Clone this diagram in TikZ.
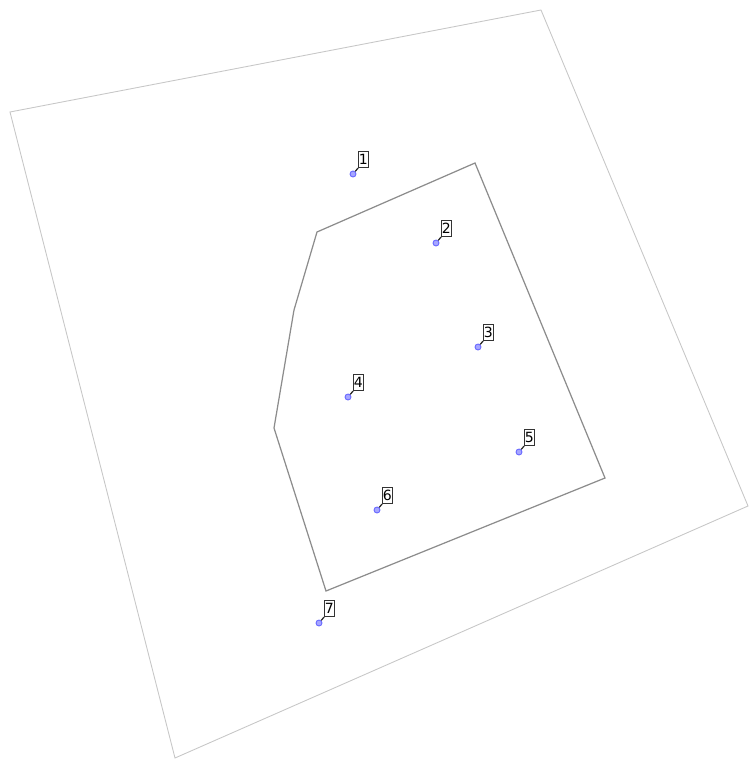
\documentclass[tikz,border=0pt]{standalone}
\usepackage{fontspec}
\setsansfont{DejaVu Sans}
\usetikzlibrary{positioning}

\tikzset{
  site/.style={circle, draw=blue!60!white, fill=blue!35!white, line width=0.5pt, inner sep=0pt, minimum size=3.4pt},
  tag/.style={draw=black!80, line width=0.45pt, inner xsep=0.3pt, inner ysep=1.6pt, font=\sffamily\fontsize{8}{8}\selectfont, fill=white},
  pinline/.style={draw=black!85, line width=0.7pt}
}

\begin{document}
\begin{tikzpicture}[x=0.02cm, y=-0.02cm]
  \useasboundingbox (0,0) rectangle (749,764);
  % outer frame and inner region
  \draw[black!22, line width=0.5pt] (10,112) -- (541,10) -- (748,506) -- (175,758) -- cycle;
  \draw[black!45, line width=0.7pt] (317,232) -- (475,163) -- (605,478) -- (326,591) -- (274,428) -- (294,310) -- cycle;
  % sites
  \node[site] (p1) at (353,174) {};
  \node[site] (p2) at (436,243) {};
  \node[site] (p3) at (478,347) {};
  \node[site] (p4) at (348,397) {};
  \node[site] (p5) at (519,452) {};
  \node[site] (p6) at (377,510) {};
  \node[site] (p7) at (319,623) {};
  % tags
  \node[tag, above right=2pt and 1.5pt of p1] (t1) {1};
  \node[tag, above right=2pt and 1.5pt of p2] (t2) {2};
  \node[tag, above right=2pt and 1.5pt of p3] (t3) {3};
  \node[tag, above right=2pt and 1.5pt of p4] (t4) {4};
  \node[tag, above right=2pt and 1.5pt of p5] (t5) {5};
  \node[tag, above right=2pt and 1.5pt of p6] (t6) {6};
  \node[tag, above right=2pt and 1.5pt of p7] (t7) {7};
  \path[pinline]
    (p1) edge (t1.south west)
    (p2) edge (t2.south west)
    (p3) edge (t3.south west)
    (p4) edge (t4.south west)
    (p5) edge (t5.south west)
    (p6) edge (t6.south west)
    (p7) edge (t7.south west);
\end{tikzpicture}
\end{document}
